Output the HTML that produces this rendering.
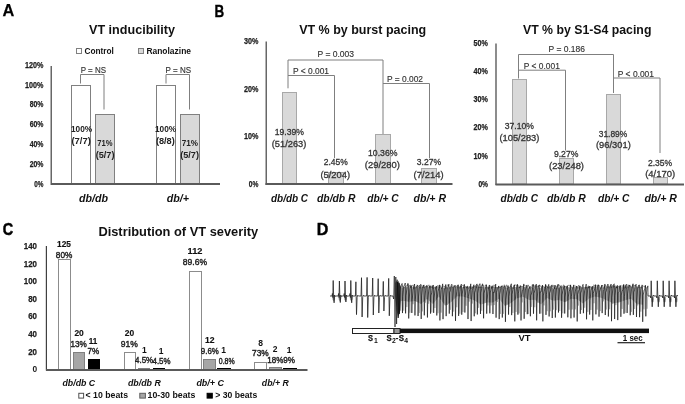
<!DOCTYPE html>
<html><head><meta charset="utf-8"><style>
html,body{margin:0;padding:0;background:#fff;width:685px;height:404px;overflow:hidden}
svg{display:block;filter:grayscale(1) blur(0.35px)}
text{font-family:"Liberation Sans",sans-serif}
</style></head><body>
<svg width="685" height="404" viewBox="0 0 685 404" font-family="Liberation Sans, sans-serif"><text x="2.5" y="16.3" font-size="17.4" font-weight="bold" font-style="normal" fill="#000" stroke="#000" stroke-width="0.25" textLength="11.8" lengthAdjust="spacingAndGlyphs">A</text>
<text x="214.5" y="16.6" font-size="17.4" font-weight="bold" font-style="normal" fill="#000" stroke="#000" stroke-width="0.4" textLength="9.7" lengthAdjust="spacingAndGlyphs">B</text>
<text x="2.7" y="234.9" font-size="17.4" font-weight="bold" font-style="normal" fill="#000" stroke="#000" stroke-width="0.5" textLength="10.4" lengthAdjust="spacingAndGlyphs">C</text>
<text x="316.8" y="234.7" font-size="17.4" font-weight="bold" font-style="normal" fill="#000" stroke="#000" stroke-width="0.45" textLength="11.6" lengthAdjust="spacingAndGlyphs">D</text>
<text x="89.0" y="33.7" font-size="13" font-weight="bold" font-style="normal" fill="#111" textLength="86.0" lengthAdjust="spacingAndGlyphs">VT inducibility</text>
<rect x="76.5" y="48.5" width="5.0" height="5.0" fill="#fff" stroke="#808080" stroke-width="1"/>
<text x="84.4" y="53.7" font-size="9" font-weight="bold" font-style="normal" fill="#111" textLength="29.5" lengthAdjust="spacingAndGlyphs">Control</text>
<rect x="138.5" y="48.5" width="5.0" height="5.0" fill="#d9d9d9" stroke="#808080" stroke-width="1"/>
<text x="146.4" y="53.7" font-size="9" font-weight="bold" font-style="normal" fill="#111" textLength="44.6" lengthAdjust="spacingAndGlyphs">Ranolazine</text>
<text x="34.3" y="186.6" font-size="8.4" font-weight="bold" font-style="normal" fill="#1e1e1e" stroke="#1e1e1e" stroke-width="0.25" textLength="9.2" lengthAdjust="spacingAndGlyphs">0%</text>
<text x="29.7" y="166.8" font-size="8.4" font-weight="bold" font-style="normal" fill="#1e1e1e" stroke="#1e1e1e" stroke-width="0.25" textLength="13.8" lengthAdjust="spacingAndGlyphs">20%</text>
<text x="29.7" y="147.0" font-size="8.4" font-weight="bold" font-style="normal" fill="#1e1e1e" stroke="#1e1e1e" stroke-width="0.25" textLength="13.8" lengthAdjust="spacingAndGlyphs">40%</text>
<text x="29.7" y="127.2" font-size="8.4" font-weight="bold" font-style="normal" fill="#1e1e1e" stroke="#1e1e1e" stroke-width="0.25" textLength="13.8" lengthAdjust="spacingAndGlyphs">60%</text>
<text x="29.7" y="107.4" font-size="8.4" font-weight="bold" font-style="normal" fill="#1e1e1e" stroke="#1e1e1e" stroke-width="0.25" textLength="13.8" lengthAdjust="spacingAndGlyphs">80%</text>
<text x="25.1" y="87.6" font-size="8.4" font-weight="bold" font-style="normal" fill="#1e1e1e" stroke="#1e1e1e" stroke-width="0.25" textLength="18.4" lengthAdjust="spacingAndGlyphs">100%</text>
<text x="25.1" y="67.8" font-size="8.4" font-weight="bold" font-style="normal" fill="#1e1e1e" stroke="#1e1e1e" stroke-width="0.25" textLength="18.4" lengthAdjust="spacingAndGlyphs">120%</text>
<rect x="71.5" y="85.5" width="19.0" height="98.5" fill="#fff" stroke="#808080" stroke-width="1"/>
<rect x="95.5" y="114.5" width="19.0" height="69.5" fill="#d9d9d9" stroke="#808080" stroke-width="1"/>
<rect x="156.5" y="85.5" width="19.0" height="98.5" fill="#fff" stroke="#808080" stroke-width="1"/>
<rect x="180.5" y="114.5" width="19.0" height="69.5" fill="#d9d9d9" stroke="#808080" stroke-width="1"/>
<line x1="51.2" y1="66" x2="51.2" y2="185" stroke="#404040" stroke-width="1.2"/>
<line x1="51" y1="184" x2="220" y2="184" stroke="#5a5a5a" stroke-width="2"/>
<polyline points="80.5,83.5 80.5,74.5 104,74.5 104,109.5" fill="none" stroke="#7f7f7f" stroke-width="1"/>
<polyline points="166,83.5 166,74.5 189.5,74.5 189.5,109.5" fill="none" stroke="#7f7f7f" stroke-width="1"/>
<text x="80.7" y="72.5" font-size="9" font-weight="normal" font-style="normal" fill="#333" stroke="#333" stroke-width="0.15" textLength="25.3" lengthAdjust="spacingAndGlyphs">P = NS</text>
<text x="165.6" y="72.5" font-size="9" font-weight="normal" font-style="normal" fill="#333" stroke="#333" stroke-width="0.15" textLength="25.5" lengthAdjust="spacingAndGlyphs">P = NS</text>
<text x="71.0" y="131.9" font-size="8.5" font-weight="bold" font-style="normal" fill="#222" textLength="21.2" lengthAdjust="spacingAndGlyphs">100%</text>
<text x="71.4" y="144.3" font-size="8.5" font-weight="bold" font-style="normal" fill="#222" textLength="19.4" lengthAdjust="spacingAndGlyphs">(7/7)</text>
<text x="97.2" y="146.1" font-size="8.5" font-weight="bold" font-style="normal" fill="#222" textLength="15.3" lengthAdjust="spacingAndGlyphs">71%</text>
<text x="95.7" y="158.3" font-size="8.5" font-weight="bold" font-style="normal" fill="#222" textLength="18.8" lengthAdjust="spacingAndGlyphs">(5/7)</text>
<text x="155.0" y="131.9" font-size="8.5" font-weight="bold" font-style="normal" fill="#222" textLength="21.2" lengthAdjust="spacingAndGlyphs">100%</text>
<text x="155.9" y="144.3" font-size="8.5" font-weight="bold" font-style="normal" fill="#222" textLength="18.9" lengthAdjust="spacingAndGlyphs">(8/8)</text>
<text x="181.7" y="146.1" font-size="8.5" font-weight="bold" font-style="normal" fill="#222" textLength="16.3" lengthAdjust="spacingAndGlyphs">71%</text>
<text x="180.2" y="158.3" font-size="8.5" font-weight="bold" font-style="normal" fill="#222" textLength="18.8" lengthAdjust="spacingAndGlyphs">(5/7)</text>
<text x="79.0" y="202.1" font-size="11" font-weight="bold" font-style="italic" fill="#111" textLength="29.0" lengthAdjust="spacingAndGlyphs">db/db</text>
<text x="166.7" y="202.1" font-size="11" font-weight="bold" font-style="italic" fill="#111" textLength="22.3" lengthAdjust="spacingAndGlyphs">db/+</text>
<text x="299.2" y="33.6" font-size="13" font-weight="bold" font-style="normal" fill="#111" textLength="127.0" lengthAdjust="spacingAndGlyphs">VT % by burst pacing</text>
<text x="248.8" y="186.6" font-size="8.4" font-weight="bold" font-style="normal" fill="#1e1e1e" stroke="#1e1e1e" stroke-width="0.25" textLength="9.6" lengthAdjust="spacingAndGlyphs">0%</text>
<text x="244.0" y="139.1" font-size="8.4" font-weight="bold" font-style="normal" fill="#1e1e1e" stroke="#1e1e1e" stroke-width="0.25" textLength="14.4" lengthAdjust="spacingAndGlyphs">10%</text>
<text x="244.0" y="91.6" font-size="8.4" font-weight="bold" font-style="normal" fill="#1e1e1e" stroke="#1e1e1e" stroke-width="0.25" textLength="14.4" lengthAdjust="spacingAndGlyphs">20%</text>
<text x="244.0" y="44.1" font-size="8.4" font-weight="bold" font-style="normal" fill="#1e1e1e" stroke="#1e1e1e" stroke-width="0.25" textLength="14.4" lengthAdjust="spacingAndGlyphs">30%</text>
<rect x="282.5" y="92.5" width="14" height="91.5" fill="#d9d9d9" stroke="#a8a8a8" stroke-width="1"/>
<rect x="328.5" y="172.5" width="15" height="11.5" fill="#d9d9d9" stroke="#a8a8a8" stroke-width="1"/>
<rect x="375.5" y="134.5" width="15" height="49.5" fill="#d9d9d9" stroke="#a8a8a8" stroke-width="1"/>
<rect x="421.5" y="168.5" width="15" height="15.5" fill="#d9d9d9" stroke="#a8a8a8" stroke-width="1"/>
<line x1="266.2" y1="41.5" x2="266.2" y2="185" stroke="#404040" stroke-width="1.2"/>
<line x1="265.5" y1="184" x2="452.5" y2="184" stroke="#5a5a5a" stroke-width="2"/>
<polyline points="288,88.3 288,60 383,60 383,134" fill="none" stroke="#7f7f7f" stroke-width="1"/>
<polyline points="288,75.5 334.5,75.5 334.5,158" fill="none" stroke="#7f7f7f" stroke-width="1"/>
<polyline points="383,83.5 429.5,83.5 429.5,158" fill="none" stroke="#7f7f7f" stroke-width="1"/>
<text x="317.5" y="56.9" font-size="9" font-weight="normal" font-style="normal" fill="#333" stroke="#333" stroke-width="0.15" textLength="36.6" lengthAdjust="spacingAndGlyphs">P = 0.003</text>
<text x="293.0" y="73.7" font-size="9" font-weight="normal" font-style="normal" fill="#333" stroke="#333" stroke-width="0.15" textLength="36.0" lengthAdjust="spacingAndGlyphs">P &lt; 0.001</text>
<text x="387.0" y="81.8" font-size="9" font-weight="normal" font-style="normal" fill="#333" stroke="#333" stroke-width="0.15" textLength="36.0" lengthAdjust="spacingAndGlyphs">P = 0.002</text>
<text x="274.7" y="135.3" font-size="9.6" font-weight="normal" font-style="normal" fill="#333" stroke="#333" stroke-width="0.3" textLength="29.3" lengthAdjust="spacingAndGlyphs">19.39%</text>
<text x="271.7" y="147.2" font-size="9.6" font-weight="normal" font-style="normal" fill="#333" stroke="#333" stroke-width="0.3" textLength="34.7" lengthAdjust="spacingAndGlyphs">(51/263)</text>
<text x="323.7" y="165.0" font-size="9.6" font-weight="normal" font-style="normal" fill="#333" stroke="#333" stroke-width="0.3" textLength="24.1" lengthAdjust="spacingAndGlyphs">2.45%</text>
<text x="320.5" y="177.5" font-size="9.6" font-weight="normal" font-style="normal" fill="#333" stroke="#333" stroke-width="0.3" textLength="29.5" lengthAdjust="spacingAndGlyphs">(5/204)</text>
<text x="368.0" y="156.4" font-size="9.6" font-weight="normal" font-style="normal" fill="#333" stroke="#333" stroke-width="0.3" textLength="29.5" lengthAdjust="spacingAndGlyphs">10.36%</text>
<text x="364.8" y="168.2" font-size="9.6" font-weight="normal" font-style="normal" fill="#333" stroke="#333" stroke-width="0.3" textLength="35.2" lengthAdjust="spacingAndGlyphs">(29/280)</text>
<text x="416.8" y="165.0" font-size="9.6" font-weight="normal" font-style="normal" fill="#333" stroke="#333" stroke-width="0.3" textLength="24.2" lengthAdjust="spacingAndGlyphs">3.27%</text>
<text x="413.6" y="177.5" font-size="9.6" font-weight="normal" font-style="normal" fill="#333" stroke="#333" stroke-width="0.3" textLength="30.0" lengthAdjust="spacingAndGlyphs">(7/214)</text>
<text x="271.0" y="202.3" font-size="11" font-weight="bold" font-style="italic" fill="#111" textLength="37.0" lengthAdjust="spacingAndGlyphs">db/db C</text>
<text x="317.0" y="202.3" font-size="11" font-weight="bold" font-style="italic" fill="#111" textLength="38.5" lengthAdjust="spacingAndGlyphs">db/db R</text>
<text x="367.3" y="202.3" font-size="11" font-weight="bold" font-style="italic" fill="#111" textLength="31.4" lengthAdjust="spacingAndGlyphs">db/+ C</text>
<text x="413.6" y="202.3" font-size="11" font-weight="bold" font-style="italic" fill="#111" textLength="32.4" lengthAdjust="spacingAndGlyphs">db/+ R</text>
<text x="523.0" y="33.6" font-size="13" font-weight="bold" font-style="normal" fill="#111" textLength="128.4" lengthAdjust="spacingAndGlyphs">VT % by S1-S4 pacing</text>
<text x="478.4" y="186.6" font-size="8.4" font-weight="bold" font-style="normal" fill="#1e1e1e" stroke="#1e1e1e" stroke-width="0.25" textLength="9.6" lengthAdjust="spacingAndGlyphs">0%</text>
<text x="473.6" y="158.5" font-size="8.4" font-weight="bold" font-style="normal" fill="#1e1e1e" stroke="#1e1e1e" stroke-width="0.25" textLength="14.4" lengthAdjust="spacingAndGlyphs">10%</text>
<text x="473.6" y="130.4" font-size="8.4" font-weight="bold" font-style="normal" fill="#1e1e1e" stroke="#1e1e1e" stroke-width="0.25" textLength="14.4" lengthAdjust="spacingAndGlyphs">20%</text>
<text x="473.6" y="102.3" font-size="8.4" font-weight="bold" font-style="normal" fill="#1e1e1e" stroke="#1e1e1e" stroke-width="0.25" textLength="14.4" lengthAdjust="spacingAndGlyphs">30%</text>
<text x="473.6" y="74.2" font-size="8.4" font-weight="bold" font-style="normal" fill="#1e1e1e" stroke="#1e1e1e" stroke-width="0.25" textLength="14.4" lengthAdjust="spacingAndGlyphs">40%</text>
<text x="473.6" y="46.1" font-size="8.4" font-weight="bold" font-style="normal" fill="#1e1e1e" stroke="#1e1e1e" stroke-width="0.25" textLength="14.4" lengthAdjust="spacingAndGlyphs">50%</text>
<rect x="512.5" y="79.5" width="14" height="104.5" fill="#d9d9d9" stroke="#a8a8a8" stroke-width="1"/>
<rect x="559.5" y="158.5" width="14" height="25.5" fill="#d9d9d9" stroke="#a8a8a8" stroke-width="1"/>
<rect x="606.5" y="94.5" width="14" height="89.5" fill="#d9d9d9" stroke="#a8a8a8" stroke-width="1"/>
<rect x="653.5" y="177.5" width="14" height="6.5" fill="#d9d9d9" stroke="#a8a8a8" stroke-width="1"/>
<line x1="496" y1="43.5" x2="496" y2="185" stroke="#404040" stroke-width="1.2"/>
<line x1="495.5" y1="184.5" x2="684" y2="184.5" stroke="#5a5a5a" stroke-width="2"/>
<polyline points="518.5,78.5 518.5,54.5 613.5,54.5 613.5,93" fill="none" stroke="#7f7f7f" stroke-width="1"/>
<polyline points="518.5,70.2 565.5,70.2 565.5,150.5" fill="none" stroke="#7f7f7f" stroke-width="1"/>
<polyline points="613.5,78 660,78 660,153" fill="none" stroke="#7f7f7f" stroke-width="1"/>
<text x="548.6" y="52.4" font-size="9" font-weight="normal" font-style="normal" fill="#333" stroke="#333" stroke-width="0.15" textLength="36.4" lengthAdjust="spacingAndGlyphs">P = 0.186</text>
<text x="523.8" y="69.2" font-size="9" font-weight="normal" font-style="normal" fill="#333" stroke="#333" stroke-width="0.15" textLength="36.0" lengthAdjust="spacingAndGlyphs">P &lt; 0.001</text>
<text x="617.8" y="76.8" font-size="9" font-weight="normal" font-style="normal" fill="#333" stroke="#333" stroke-width="0.15" textLength="36.2" lengthAdjust="spacingAndGlyphs">P &lt; 0.001</text>
<text x="504.8" y="129.2" font-size="9.6" font-weight="normal" font-style="normal" fill="#333" stroke="#333" stroke-width="0.3" textLength="29.2" lengthAdjust="spacingAndGlyphs">37.10%</text>
<text x="499.4" y="141.2" font-size="9.6" font-weight="normal" font-style="normal" fill="#333" stroke="#333" stroke-width="0.3" textLength="40.0" lengthAdjust="spacingAndGlyphs">(105/283)</text>
<text x="553.9" y="157.0" font-size="9.6" font-weight="normal" font-style="normal" fill="#333" stroke="#333" stroke-width="0.3" textLength="24.5" lengthAdjust="spacingAndGlyphs">9.27%</text>
<text x="549.0" y="169.2" font-size="9.6" font-weight="normal" font-style="normal" fill="#333" stroke="#333" stroke-width="0.3" textLength="35.0" lengthAdjust="spacingAndGlyphs">(23/248)</text>
<text x="598.7" y="136.5" font-size="9.6" font-weight="normal" font-style="normal" fill="#333" stroke="#333" stroke-width="0.3" textLength="28.6" lengthAdjust="spacingAndGlyphs">31.89%</text>
<text x="596.0" y="148.2" font-size="9.6" font-weight="normal" font-style="normal" fill="#333" stroke="#333" stroke-width="0.3" textLength="34.8" lengthAdjust="spacingAndGlyphs">(96/301)</text>
<text x="648.0" y="165.9" font-size="9.6" font-weight="normal" font-style="normal" fill="#333" stroke="#333" stroke-width="0.3" textLength="24.2" lengthAdjust="spacingAndGlyphs">2.35%</text>
<text x="645.2" y="177.4" font-size="9.6" font-weight="normal" font-style="normal" fill="#333" stroke="#333" stroke-width="0.3" textLength="30.0" lengthAdjust="spacingAndGlyphs">(4/170)</text>
<text x="500.5" y="202.3" font-size="11" font-weight="bold" font-style="italic" fill="#111" textLength="37.5" lengthAdjust="spacingAndGlyphs">db/db C</text>
<text x="547.0" y="202.3" font-size="11" font-weight="bold" font-style="italic" fill="#111" textLength="38.7" lengthAdjust="spacingAndGlyphs">db/db R</text>
<text x="598.0" y="202.3" font-size="11" font-weight="bold" font-style="italic" fill="#111" textLength="31.5" lengthAdjust="spacingAndGlyphs">db/+ C</text>
<text x="644.4" y="202.3" font-size="11" font-weight="bold" font-style="italic" fill="#111" textLength="32.6" lengthAdjust="spacingAndGlyphs">db/+ R</text>
<text x="98.4" y="236.0" font-size="13" font-weight="bold" font-style="normal" fill="#111" textLength="159.8" lengthAdjust="spacingAndGlyphs">Distribution of VT severity</text>
<text x="34.8" y="372.2" font-size="8.4" font-weight="bold" font-style="normal" fill="#1e1e1e" text-anchor="middle">0</text>
<text x="28.2" y="354.6" font-size="8.4" font-weight="bold" font-style="normal" fill="#1e1e1e" stroke="#1e1e1e" stroke-width="0.25" textLength="8.8" lengthAdjust="spacingAndGlyphs">20</text>
<text x="28.2" y="337.0" font-size="8.4" font-weight="bold" font-style="normal" fill="#1e1e1e" stroke="#1e1e1e" stroke-width="0.25" textLength="8.8" lengthAdjust="spacingAndGlyphs">40</text>
<text x="28.2" y="319.4" font-size="8.4" font-weight="bold" font-style="normal" fill="#1e1e1e" stroke="#1e1e1e" stroke-width="0.25" textLength="8.8" lengthAdjust="spacingAndGlyphs">60</text>
<text x="28.2" y="301.8" font-size="8.4" font-weight="bold" font-style="normal" fill="#1e1e1e" stroke="#1e1e1e" stroke-width="0.25" textLength="8.8" lengthAdjust="spacingAndGlyphs">80</text>
<text x="23.8" y="284.2" font-size="8.4" font-weight="bold" font-style="normal" fill="#1e1e1e" stroke="#1e1e1e" stroke-width="0.25" textLength="13.2" lengthAdjust="spacingAndGlyphs">100</text>
<text x="23.8" y="266.6" font-size="8.4" font-weight="bold" font-style="normal" fill="#1e1e1e" stroke="#1e1e1e" stroke-width="0.25" textLength="13.2" lengthAdjust="spacingAndGlyphs">120</text>
<text x="23.8" y="249.0" font-size="8.4" font-weight="bold" font-style="normal" fill="#1e1e1e" stroke="#1e1e1e" stroke-width="0.25" textLength="13.2" lengthAdjust="spacingAndGlyphs">140</text>
<rect x="58.5" y="259.5" width="12" height="110.10000000000002" fill="#fff" stroke="#8c8c8c" stroke-width="1"/>
<rect x="73.5" y="352.5" width="11" height="17.100000000000023" fill="#a6a6a6" stroke="#808080" stroke-width="1"/>
<rect x="88.5" y="359.5" width="11" height="10.100000000000023" fill="#000" stroke="#000" stroke-width="1"/>
<rect x="124.5" y="352.5" width="11" height="17.100000000000023" fill="#fff" stroke="#8c8c8c" stroke-width="1"/>
<rect x="138.5" y="368.5" width="11" height="1.1000000000000227" fill="#a6a6a6" stroke="#808080" stroke-width="1"/>
<rect x="153.5" y="368.5" width="11" height="1.1000000000000227" fill="#000" stroke="#000" stroke-width="1"/>
<rect x="189.5" y="271.5" width="12" height="98.10000000000002" fill="#fff" stroke="#8c8c8c" stroke-width="1"/>
<rect x="203.5" y="359.5" width="12" height="10.100000000000023" fill="#a6a6a6" stroke="#808080" stroke-width="1"/>
<rect x="217.5" y="368.5" width="13" height="1.1000000000000227" fill="#000" stroke="#000" stroke-width="1"/>
<rect x="254.5" y="362.5" width="12" height="7.100000000000023" fill="#fff" stroke="#8c8c8c" stroke-width="1"/>
<rect x="269.5" y="367.5" width="12" height="2.1000000000000227" fill="#a6a6a6" stroke="#808080" stroke-width="1"/>
<rect x="283.5" y="368.5" width="13" height="1.1000000000000227" fill="#000" stroke="#000" stroke-width="1"/>
<line x1="46.4" y1="246" x2="46.4" y2="370.5" stroke="#404040" stroke-width="1.2"/>
<line x1="46" y1="370" x2="307.5" y2="370" stroke="#5a5a5a" stroke-width="2"/>
<text x="57.0" y="247.1" font-size="8.5" font-weight="bold" font-style="normal" fill="#111" stroke="#111" stroke-width="0.15" textLength="13.9" lengthAdjust="spacingAndGlyphs">125</text>
<text x="55.8" y="257.7" font-size="8.5" font-weight="normal" font-style="normal" fill="#1e1e1e" stroke="#1e1e1e" stroke-width="0.4" textLength="16.5" lengthAdjust="spacingAndGlyphs">80%</text>
<text x="74.4" y="336.0" font-size="8.5" font-weight="bold" font-style="normal" fill="#111" stroke="#111" stroke-width="0.15" textLength="9.4" lengthAdjust="spacingAndGlyphs">20</text>
<text x="70.4" y="346.9" font-size="8.5" font-weight="normal" font-style="normal" fill="#1e1e1e" stroke="#1e1e1e" stroke-width="0.4" textLength="16.4" lengthAdjust="spacingAndGlyphs">13%</text>
<text x="88.8" y="343.9" font-size="8.5" font-weight="bold" font-style="normal" fill="#111" stroke="#111" stroke-width="0.15" textLength="8.6" lengthAdjust="spacingAndGlyphs">11</text>
<text x="87.5" y="354.3" font-size="8.5" font-weight="normal" font-style="normal" fill="#1e1e1e" stroke="#1e1e1e" stroke-width="0.4" textLength="11.7" lengthAdjust="spacingAndGlyphs">7%</text>
<text x="124.8" y="335.9" font-size="8.5" font-weight="bold" font-style="normal" fill="#111" stroke="#111" stroke-width="0.15" textLength="9.4" lengthAdjust="spacingAndGlyphs">20</text>
<text x="120.8" y="346.8" font-size="8.5" font-weight="normal" font-style="normal" fill="#1e1e1e" stroke="#1e1e1e" stroke-width="0.4" textLength="17.1" lengthAdjust="spacingAndGlyphs">91%</text>
<text x="144.3" y="352.5" font-size="8.5" font-weight="bold" font-style="normal" fill="#111" text-anchor="middle">1</text>
<text x="135.0" y="363.0" font-size="8.5" font-weight="normal" font-style="normal" fill="#1e1e1e" stroke="#1e1e1e" stroke-width="0.4" textLength="18.2" lengthAdjust="spacingAndGlyphs">4.5%</text>
<text x="161.1" y="353.7" font-size="8.5" font-weight="bold" font-style="normal" fill="#111" text-anchor="middle">1</text>
<text x="152.5" y="364.0" font-size="8.5" font-weight="normal" font-style="normal" fill="#1e1e1e" stroke="#1e1e1e" stroke-width="0.4" textLength="18.0" lengthAdjust="spacingAndGlyphs">4.5%</text>
<text x="187.6" y="253.8" font-size="8.5" font-weight="bold" font-style="normal" fill="#111" stroke="#111" stroke-width="0.15" textLength="14.9" lengthAdjust="spacingAndGlyphs">112</text>
<text x="182.8" y="264.8" font-size="8.5" font-weight="normal" font-style="normal" fill="#1e1e1e" stroke="#1e1e1e" stroke-width="0.4" textLength="24.2" lengthAdjust="spacingAndGlyphs">89.6%</text>
<text x="205.0" y="342.8" font-size="8.5" font-weight="bold" font-style="normal" fill="#111" stroke="#111" stroke-width="0.15" textLength="9.6" lengthAdjust="spacingAndGlyphs">12</text>
<text x="200.8" y="353.9" font-size="8.5" font-weight="normal" font-style="normal" fill="#1e1e1e" stroke="#1e1e1e" stroke-width="0.4" textLength="18.0" lengthAdjust="spacingAndGlyphs">9.6%</text>
<text x="223.6" y="352.8" font-size="8.5" font-weight="bold" font-style="normal" fill="#111" text-anchor="middle">1</text>
<text x="218.8" y="363.6" font-size="8.5" font-weight="normal" font-style="normal" fill="#1e1e1e" stroke="#1e1e1e" stroke-width="0.4" textLength="15.9" lengthAdjust="spacingAndGlyphs">0.8%</text>
<text x="260.6" y="346.0" font-size="8.5" font-weight="bold" font-style="normal" fill="#111" text-anchor="middle">8</text>
<text x="252.0" y="356.3" font-size="8.5" font-weight="normal" font-style="normal" fill="#1e1e1e" stroke="#1e1e1e" stroke-width="0.4" textLength="16.7" lengthAdjust="spacingAndGlyphs">73%</text>
<text x="275.1" y="351.8" font-size="8.5" font-weight="bold" font-style="normal" fill="#111" text-anchor="middle">2</text>
<text x="267.3" y="362.5" font-size="8.5" font-weight="normal" font-style="normal" fill="#1e1e1e" stroke="#1e1e1e" stroke-width="0.4" textLength="16.0" lengthAdjust="spacingAndGlyphs">18%</text>
<text x="289.1" y="352.8" font-size="8.5" font-weight="bold" font-style="normal" fill="#111" text-anchor="middle">1</text>
<text x="283.3" y="363.2" font-size="8.5" font-weight="normal" font-style="normal" fill="#1e1e1e" stroke="#1e1e1e" stroke-width="0.4" textLength="11.7" lengthAdjust="spacingAndGlyphs">9%</text>
<text x="62.5" y="386.2" font-size="9" font-weight="bold" font-style="italic" fill="#111" textLength="32.7" lengthAdjust="spacingAndGlyphs">db/db C</text>
<text x="127.9" y="386.2" font-size="9" font-weight="bold" font-style="italic" fill="#111" textLength="32.9" lengthAdjust="spacingAndGlyphs">db/db R</text>
<text x="196.4" y="386.2" font-size="9" font-weight="bold" font-style="italic" fill="#111" textLength="27.6" lengthAdjust="spacingAndGlyphs">db/+ C</text>
<text x="261.8" y="386.2" font-size="9" font-weight="bold" font-style="italic" fill="#111" textLength="27.0" lengthAdjust="spacingAndGlyphs">db/+ R</text>
<rect x="78.8" y="393.3" width="4.799999999999997" height="4.800000000000011" fill="#fff" stroke="#505050" stroke-width="1"/>
<text x="85.6" y="398.4" font-size="8.5" font-weight="bold" font-style="normal" fill="#111" textLength="42.5" lengthAdjust="spacingAndGlyphs">&lt; 10 beats</text>
<rect x="139.8" y="393.3" width="5.599999999999994" height="4.800000000000011" fill="#a6a6a6" stroke="#606060" stroke-width="1"/>
<text x="147.5" y="398.4" font-size="8.5" font-weight="bold" font-style="normal" fill="#111" textLength="47.9" lengthAdjust="spacingAndGlyphs">10-30 beats</text>
<rect x="207.1" y="393.3" width="5.200000000000017" height="4.800000000000011" fill="#000" stroke="#000" stroke-width="1"/>
<text x="215.2" y="398.4" font-size="8.5" font-weight="bold" font-style="normal" fill="#111" textLength="42.1" lengthAdjust="spacingAndGlyphs">&gt; 30 beats</text>
<ellipse cx="652.6" cy="299.5" rx="1.3" ry="3" fill="#9a9a9a"/>
<ellipse cx="658.7" cy="299.5" rx="1.3" ry="3" fill="#9a9a9a"/>
<ellipse cx="664.6" cy="299.5" rx="1.3" ry="3" fill="#9a9a9a"/>
<ellipse cx="670.5" cy="299.5" rx="1.3" ry="3" fill="#9a9a9a"/>
<ellipse cx="676.3" cy="299.5" rx="1.3" ry="3" fill="#9a9a9a"/>
<ellipse cx="333.7" cy="298" rx="1.4" ry="3" fill="#a0a0a0"/>
<ellipse cx="339.9" cy="298" rx="1.4" ry="3" fill="#a0a0a0"/>
<ellipse cx="345.5" cy="298" rx="1.4" ry="3" fill="#a0a0a0"/>
<ellipse cx="351.3" cy="298" rx="1.4" ry="3" fill="#a0a0a0"/>
<path d="M397.00,286.98 L403.00,287.69 L409.00,287.06 L415.00,286.58 L421.00,287.24 L427.00,286.44 L433.00,286.44 L439.00,287.34 L445.00,287.77 L451.00,287.28 L457.00,286.54 L463.00,287.09 L469.00,286.59 L475.00,286.35 L481.00,286.96 L487.00,287.08 L493.00,287.05 L499.00,286.99 L505.00,287.80 L511.00,287.56 L517.00,286.77 L523.00,286.73 L529.00,287.45 L535.00,287.57 L541.00,287.74 L547.00,286.30 L553.00,287.67 L559.00,287.77 L565.00,286.41 L571.00,287.47 L577.00,286.43 L583.00,287.75 L589.00,286.48 L595.00,286.45 L601.00,287.50 L607.00,287.14 L613.00,286.59 L619.00,286.50 L625.00,286.47 L631.00,286.62 L637.00,287.76 L643.00,286.76 L643.00,304.85 L637.00,304.03 L631.00,298.70 L625.00,300.21 L619.00,302.44 L613.00,303.32 L607.00,300.47 L601.00,297.78 L595.00,296.60 L589.00,298.46 L583.00,303.58 L577.00,299.33 L571.00,298.70 L565.00,302.29 L559.00,299.97 L553.00,300.70 L547.00,298.10 L541.00,304.47 L535.00,299.87 L529.00,300.00 L523.00,296.70 L517.00,298.30 L511.00,303.08 L505.00,305.96 L499.00,298.78 L493.00,302.62 L487.00,302.40 L481.00,304.42 L475.00,300.64 L469.00,298.42 L463.00,296.60 L457.00,296.15 L451.00,302.16 L445.00,305.65 L439.00,296.42 L433.00,304.10 L427.00,299.03 L421.00,303.93 L415.00,301.12 L409.00,301.87 L403.00,300.66 L397.00,301.60Z" fill="#ababab"/>
<path d="M399.80,289.49 L400.60,310.64 L401.40,294.77 L402.92,290.77 L403.72,310.62 L404.52,295.53 L406.04,287.12 L406.84,307.05 L407.64,295.66 L409.16,289.60 L409.96,312.71 L410.76,290.68 L412.28,288.88 L413.08,304.21 L413.88,293.26 L415.40,289.30 L416.20,301.17 L417.00,291.30 L418.52,288.12 L419.32,312.91 L420.12,294.59 L421.64,287.64 L422.44,311.36 L423.24,290.83 L424.76,289.47 L425.56,302.65 L426.36,290.01 L427.88,290.49 L428.68,303.72 L429.48,291.29 L431.00,290.93 L431.80,312.34 L432.60,291.74 L434.12,290.85 L434.92,308.01 L435.72,294.07 L437.24,287.82 L438.04,313.23 L438.84,294.14 L440.36,290.87 L441.16,312.62 L441.96,291.79 L443.48,288.44 L444.28,303.16 L445.08,290.87 L446.60,287.26 L447.40,304.92 L448.20,293.62 L449.72,287.01 L450.52,309.81 L451.32,292.03 L452.84,288.24 L453.64,311.64 L454.44,292.88 L455.96,288.26 L456.76,307.26 L457.56,294.23 L459.08,287.23 L459.88,313.68 L460.68,290.14 L462.20,290.00 L463.00,311.98 L463.80,290.11 L465.32,290.15 L466.12,305.76 L466.92,293.47 L468.44,287.04 L469.24,301.61 L470.04,291.09 L471.56,290.82 L472.36,303.55 L473.16,294.53 L474.68,290.72 L475.48,313.25 L476.28,292.07 L477.80,288.42 L478.60,307.82 L479.40,294.65 L480.92,287.43 L481.72,310.73 L482.52,294.78 L484.04,290.44 L484.84,301.48 L485.64,295.67 L487.16,287.36 L487.96,305.43 L488.76,293.66 L490.28,290.67 L491.08,305.42 L491.88,295.55 L493.40,289.18 L494.20,305.06 L495.00,291.90 L496.52,287.71 L497.32,302.02 L498.12,290.89 L499.64,289.76 L500.44,313.96 L501.24,290.97 L502.76,287.19 L503.56,313.83 L504.36,293.20 L505.88,288.62 L506.68,304.09 L507.48,293.56 L509.00,290.31 L509.80,306.92 L510.60,292.53 L512.12,287.22 L512.92,312.91 L513.72,290.20 L515.24,288.97 L516.04,311.90 L516.84,290.78 L518.36,289.93 L519.16,313.35 L519.96,293.78 L521.48,290.15 L522.28,302.39 L523.08,292.61 L524.60,287.60 L525.40,311.98 L526.20,291.77 L527.72,288.81 L528.52,313.99 L529.32,295.11 L530.84,290.90 L531.64,306.90 L532.44,292.93 L533.96,289.92 L534.76,307.23 L535.56,291.75 L537.08,288.62 L537.88,302.90 L538.68,292.26 L540.20,290.95 L541.00,313.48 L541.80,293.76 L543.32,289.00 L544.12,305.40 L544.92,290.53 L546.44,288.09 L547.24,311.17 L548.04,295.20 L549.56,288.45 L550.36,311.22 L551.16,294.65 L552.68,289.78 L553.48,309.63 L554.28,294.56 L555.80,288.45 L556.60,310.16 L557.40,291.69 L558.92,288.94 L559.72,311.01 L560.52,294.15 L562.04,288.18 L562.84,313.29 L563.64,293.90 L565.16,289.32 L565.96,301.15 L566.76,293.28 L568.28,288.00 L569.08,309.73 L569.88,292.78 L571.40,290.27 L572.20,309.42 L573.00,294.79 L574.52,288.39 L575.32,309.37 L576.12,294.43 L577.64,290.31 L578.44,305.55 L579.24,295.06 L580.76,290.48 L581.56,309.95 L582.36,295.86 L583.88,290.83 L584.68,307.74 L585.48,293.18 L587.00,287.66 L587.80,311.88 L588.60,295.62 L590.12,288.91 L590.92,309.99 L591.72,294.32 L593.24,289.92 L594.04,303.23 L594.84,294.68 L596.36,289.32 L597.16,309.65 L597.96,292.52 L599.48,289.49 L600.28,311.07 L601.08,293.82 L602.60,289.88 L603.40,301.36 L604.20,290.96 L605.72,288.76 L606.52,309.45 L607.32,291.31 L608.84,289.74 L609.64,309.20 L610.44,290.25 L611.96,288.89 L612.76,303.94 L613.56,290.32 L615.08,287.53 L615.88,305.13 L616.68,291.09 L618.20,287.77 L619.00,301.46 L619.80,292.79 L621.32,288.52 L622.12,308.95 L622.92,293.54 L624.44,287.95 L625.24,312.74 L626.04,290.00 L627.56,288.62 L628.36,304.62 L629.16,292.46 L630.68,287.46 L631.48,311.81 L632.28,292.24 L633.80,287.14 L634.60,308.98 L635.40,290.57 L636.92,289.18 L637.72,305.41 L638.52,293.49 L640.04,290.83 L640.84,311.64 L641.64,292.51 L643.16,290.25 L643.96,309.35 L644.76,292.22 L646.28,287.57 L647.08,308.75 L647.88,293.38" fill="none" stroke="#999" stroke-width="0.6"/>
<path d="M395.5,283 L397,279 L399,282 L400.5,286 L401,300 L400,312 L398,318 L396.5,310 L395.5,296 Z" fill="#555"/>
<path d="M399.50,285.36 L400.30,287.46 L401.10,287.24 L401.90,286.62 L402.70,285.56 L403.50,287.87 L404.30,287.93 L405.10,286.75 L405.90,286.72 L406.70,285.64 L407.50,284.71 L408.30,286.18 L409.10,287.04 L409.90,284.98 L410.70,287.88 L411.50,285.63 L412.30,285.63 L413.10,284.87 L413.90,288.69 L414.70,287.65 L415.50,288.20 L416.30,287.16 L417.10,284.84 L417.90,286.02 L418.70,286.69 L419.50,285.16 L420.30,288.51 L421.10,286.17 L421.90,285.32 L422.70,287.97 L423.50,285.20 L424.30,288.41 L425.10,286.51 L425.90,286.91 L426.70,286.07 L427.50,286.64 L428.30,285.45 L429.10,284.85 L429.90,288.16 L430.70,285.64 L431.50,287.82 L432.30,285.53 L433.10,288.58 L433.90,288.28 L434.70,287.72 L435.50,287.75 L436.30,287.02 L437.10,287.62 L437.90,285.19 L438.70,286.61 L439.50,288.01 L440.30,285.50 L441.10,288.39 L441.90,288.25 L442.70,286.34 L443.50,286.16 L444.30,286.51 L445.10,286.24 L445.90,288.68 L446.70,286.25 L447.50,284.81 L448.30,285.07 L449.10,287.57 L449.90,288.67 L450.70,286.68 L451.50,286.67 L452.30,286.90 L453.10,287.69 L453.90,285.59 L454.70,287.14 L455.50,286.93 L456.30,287.19 L457.10,285.42 L457.90,285.38 L458.70,286.09 L459.50,288.41 L460.30,286.09 L461.10,287.09 L461.90,285.93 L462.70,285.11 L463.50,284.96 L464.30,287.95 L465.10,287.81 L465.90,286.20 L466.70,287.43 L467.50,287.40 L468.30,288.29 L469.10,288.53 L469.90,286.33 L470.70,288.66 L471.50,288.55 L472.30,287.06 L473.10,288.23 L473.90,286.66 L474.70,286.20 L475.50,285.69 L476.30,288.20 L477.10,285.35 L477.90,284.98 L478.70,287.92 L479.50,287.80 L480.30,286.63 L481.10,288.05 L481.90,284.91 L482.70,285.73 L483.50,285.86 L484.30,286.38 L485.10,285.38 L485.90,284.98 L486.70,286.05 L487.50,288.30 L488.30,288.63 L489.10,287.68 L489.90,286.62 L490.70,285.71 L491.50,288.54 L492.30,286.80 L493.10,287.61 L493.90,284.81 L494.70,285.55 L495.50,288.05 L496.30,287.88 L497.10,288.23 L497.90,287.11 L498.70,286.40 L499.50,287.02 L500.30,288.10 L501.10,285.93 L501.90,286.84 L502.70,285.80 L503.50,287.77 L504.30,284.74 L505.10,287.44 L505.90,288.52 L506.70,284.79 L507.50,287.07 L508.30,287.28 L509.10,288.11 L509.90,287.04 L510.70,285.73 L511.50,286.32 L512.30,288.53 L513.10,288.32 L513.90,285.23 L514.70,285.08 L515.50,285.08 L516.30,284.80 L517.10,286.49 L517.90,285.26 L518.70,288.17 L519.50,287.32 L520.30,285.21 L521.10,286.85 L521.90,286.00 L522.70,286.68 L523.50,285.58 L524.30,285.36 L525.10,285.44 L525.90,286.21 L526.70,287.54 L527.50,286.90 L528.30,284.88 L529.10,287.54 L529.90,288.20 L530.70,287.80 L531.50,287.86 L532.30,284.73 L533.10,286.56 L533.90,284.95 L534.70,287.76 L535.50,285.40 L536.30,287.55 L537.10,285.71 L537.90,287.49 L538.70,285.95 L539.50,284.87 L540.30,286.26 L541.10,285.94 L541.90,288.30 L542.70,285.88 L543.50,286.71 L544.30,286.90 L545.10,288.49 L545.90,285.09 L546.70,287.10 L547.50,286.73 L548.30,287.64 L549.10,288.57 L549.90,285.94 L550.70,287.50 L551.50,286.80 L552.30,286.94 L553.10,284.95 L553.90,287.96 L554.70,288.61 L555.50,286.12 L556.30,285.97 L557.10,288.67 L557.90,285.13 L558.70,285.00 L559.50,284.99 L560.30,287.96 L561.10,287.74 L561.90,286.49 L562.70,287.19 L563.50,284.78 L564.30,287.28 L565.10,286.47 L565.90,286.77 L566.70,286.26 L567.50,286.31 L568.30,285.60 L569.10,284.90 L569.90,286.44 L570.70,285.69 L571.50,287.52 L572.30,287.97 L573.10,287.60 L573.90,286.52 L574.70,285.65 L575.50,286.24 L576.30,286.65 L577.10,287.23 L577.90,288.55 L578.70,285.04 L579.50,286.62 L580.30,286.67 L581.10,287.57 L581.90,288.26 L582.70,287.82 L583.50,287.21 L584.30,287.73 L585.10,287.37 L585.90,288.14 L586.70,287.50 L587.50,287.43 L588.30,285.68 L589.10,288.37 L589.90,286.24 L590.70,287.16 L591.50,288.00 L592.30,288.55 L593.10,288.66 L593.90,284.73 L594.70,285.95 L595.50,285.95 L596.30,286.26 L597.10,285.28 L597.90,286.91 L598.70,285.02 L599.50,285.91 L600.30,288.47 L601.10,287.67 L601.90,286.55 L602.70,285.13 L603.50,288.52 L604.30,287.52 L605.10,285.52 L605.90,286.04 L606.70,287.27 L607.50,287.43 L608.30,285.74 L609.10,288.50 L609.90,285.99 L610.70,285.72 L611.50,288.08 L612.30,285.31 L613.10,287.42 L613.90,285.50 L614.70,287.09 L615.50,285.81 L616.30,286.22 L617.10,288.46 L617.90,286.57 L618.70,286.45 L619.50,287.17 L620.30,285.82 L621.10,285.40 L621.90,286.24 L622.70,285.79 L623.50,285.45 L624.30,288.54 L625.10,284.84 L625.90,287.94 L626.70,288.44 L627.50,287.52 L628.30,284.78 L629.10,286.70 L629.90,284.86 L630.70,287.13 L631.50,287.50 L632.30,285.66 L633.10,284.73 L633.90,286.88 L634.70,285.08 L635.50,285.94 L636.30,286.52 L637.10,288.28 L637.90,286.18 L638.70,285.24 L639.50,287.87 L640.30,287.99 L641.10,286.82 L641.90,284.90 L642.70,285.45 L643.50,286.31 L644.30,286.91 L645.10,285.60 L645.90,287.91 L646.70,288.07" fill="none" stroke="#555" stroke-width="0.6"/>
<path d="M393.60,299.00 L394.30,276.00 L395.00,327.00 L395.80,277.00 L396.60,324.00 L397.40,282.00 L398.20,318.00 L399.00,283.04 L399.35,313.93 L399.75,297.86 L400.60,286.33 L401.40,285.19 L402.12,283.46 L402.47,313.05 L402.87,296.57 L403.72,286.61 L404.52,285.20 L405.24,283.01 L405.59,313.36 L405.99,295.82 L406.84,289.31 L407.64,283.50 L408.36,283.72 L408.71,318.46 L409.11,300.53 L409.96,289.02 L410.76,285.30 L411.48,285.99 L411.83,312.94 L412.23,299.73 L413.08,290.14 L413.88,286.56 L414.60,284.01 L414.95,315.43 L415.35,299.35 L416.20,287.73 L417.00,286.33 L417.72,285.36 L418.07,316.04 L418.47,296.93 L419.32,288.61 L420.12,285.60 L420.84,284.24 L421.19,318.96 L421.59,295.85 L422.44,288.49 L423.24,286.58 L423.96,284.88 L424.31,315.35 L424.71,299.15 L425.56,290.67 L426.36,285.85 L427.08,285.19 L427.43,317.49 L427.83,299.88 L428.68,291.11 L429.48,286.35 L430.20,286.25 L430.55,313.62 L430.95,295.76 L431.80,292.28 L432.60,286.86 L433.32,284.97 L433.67,312.87 L434.07,298.01 L434.92,291.03 L435.72,287.26 L436.44,285.98 L436.79,315.48 L437.19,298.26 L438.04,291.35 L438.84,288.30 L439.56,284.89 L439.91,320.48 L440.31,300.50 L441.16,289.78 L441.96,287.54 L442.68,283.86 L443.03,319.16 L443.43,297.82 L444.28,290.83 L445.08,287.15 L445.80,284.44 L446.15,316.17 L446.55,298.02 L447.40,287.53 L448.20,286.29 L448.92,284.14 L449.27,313.61 L449.67,292.53 L450.52,290.21 L451.32,284.65 L452.04,284.34 L452.39,316.21 L452.79,299.84 L453.64,287.67 L454.44,286.14 L455.16,285.13 L455.51,320.89 L455.91,299.37 L456.76,291.58 L457.56,286.24 L458.28,284.78 L458.63,315.91 L459.03,299.96 L459.88,291.61 L460.68,285.38 L461.40,284.16 L461.75,314.70 L462.15,294.10 L463.00,289.10 L463.80,286.51 L464.52,284.38 L464.87,312.54 L465.27,295.77 L466.12,288.86 L466.92,286.65 L467.64,286.18 L467.99,319.06 L468.39,296.64 L469.24,291.65 L470.04,288.88 L470.76,283.84 L471.11,321.05 L471.51,299.02 L472.36,290.34 L473.16,287.03 L473.88,284.72 L474.23,316.29 L474.63,292.93 L475.48,290.26 L476.28,284.97 L477.00,283.88 L477.35,314.48 L477.75,293.46 L478.60,288.24 L479.40,284.09 L480.12,283.70 L480.47,313.94 L480.87,292.91 L481.72,288.16 L482.52,283.80 L483.24,285.97 L483.59,318.33 L483.99,293.34 L484.84,289.98 L485.64,287.36 L486.36,284.65 L486.71,313.67 L487.11,299.64 L487.96,291.62 L488.76,286.51 L489.48,284.96 L489.83,313.32 L490.23,292.92 L491.08,289.33 L491.88,286.02 L492.60,285.86 L492.95,314.03 L493.35,292.21 L494.20,292.66 L495.00,287.97 L495.72,284.08 L496.07,317.66 L496.47,292.24 L497.32,289.19 L498.12,288.00 L498.84,285.94 L499.19,319.11 L499.59,294.35 L500.44,290.41 L501.24,286.61 L501.96,285.71 L502.31,317.56 L502.71,299.01 L503.56,290.03 L504.36,286.60 L505.08,285.81 L505.43,321.86 L505.83,299.67 L506.68,292.03 L507.48,289.08 L508.20,285.62 L508.55,314.65 L508.95,296.66 L509.80,290.05 L510.60,285.74 L511.32,283.77 L511.67,315.15 L512.07,294.33 L512.92,289.54 L513.72,287.60 L514.44,284.86 L514.79,321.40 L515.19,300.89 L516.04,291.68 L516.84,286.32 L517.56,284.27 L517.91,314.66 L518.31,293.77 L519.16,288.09 L519.96,286.77 L520.68,286.04 L521.03,320.48 L521.43,296.32 L522.28,291.65 L523.08,289.24 L523.80,283.92 L524.15,318.78 L524.55,300.19 L525.40,290.05 L526.20,286.92 L526.92,284.94 L527.27,314.20 L527.67,299.10 L528.52,289.27 L529.32,288.15 L530.04,286.23 L530.39,316.26 L530.79,295.61 L531.64,293.01 L532.44,289.13 L533.16,284.14 L533.51,313.71 L533.91,293.36 L534.76,290.76 L535.56,287.37 L536.28,284.08 L536.63,320.35 L537.03,300.82 L537.88,289.71 L538.68,285.48 L539.40,285.13 L539.75,313.74 L540.15,292.13 L541.00,292.01 L541.80,287.73 L542.52,285.07 L542.87,321.37 L543.27,295.90 L544.12,291.56 L544.92,288.37 L545.64,284.25 L545.99,314.89 L546.39,294.64 L547.24,288.21 L548.04,286.59 L548.76,284.37 L549.11,316.48 L549.51,293.18 L550.36,291.01 L551.16,285.79 L551.88,284.89 L552.23,318.04 L552.63,300.14 L553.48,289.57 L554.28,288.56 L555.00,285.00 L555.35,317.55 L555.75,296.71 L556.60,288.08 L557.40,286.76 L558.12,284.18 L558.47,312.54 L558.87,299.19 L559.72,287.87 L560.52,286.07 L561.24,285.59 L561.59,317.79 L561.99,294.93 L562.84,290.66 L563.64,287.81 L564.36,285.74 L564.71,313.51 L565.11,297.04 L565.96,289.73 L566.76,286.85 L567.48,285.71 L567.83,317.32 L568.23,297.06 L569.08,291.75 L569.88,289.36 L570.60,284.85 L570.95,318.32 L571.35,296.55 L572.20,289.90 L573.00,287.62 L573.72,284.88 L574.07,317.57 L574.47,296.30 L575.32,291.64 L576.12,287.67 L576.84,285.98 L577.19,321.45 L577.59,294.34 L578.44,291.22 L579.24,289.75 L579.96,285.88 L580.31,313.80 L580.71,293.09 L581.56,290.65 L582.36,286.17 L583.08,284.33 L583.43,313.19 L583.83,298.03 L584.68,290.46 L585.48,287.91 L586.20,284.10 L586.55,319.30 L586.95,297.94 L587.80,287.67 L588.60,287.63 L589.32,286.22 L589.67,314.59 L590.07,300.57 L590.92,290.81 L591.72,288.16 L592.44,286.27 L592.79,320.41 L593.19,293.45 L594.04,291.00 L594.84,288.34 L595.56,284.58 L595.91,314.36 L596.31,294.87 L597.16,290.47 L597.96,284.66 L598.68,285.14 L599.03,316.68 L599.43,292.16 L600.28,289.47 L601.08,287.64 L601.80,285.03 L602.15,313.11 L602.55,300.87 L603.40,291.19 L604.20,288.92 L604.92,283.97 L605.27,315.02 L605.67,292.36 L606.52,290.09 L607.32,285.05 L608.04,284.04 L608.39,316.51 L608.79,300.20 L609.64,290.31 L610.44,285.07 L611.16,284.09 L611.51,321.23 L611.91,297.14 L612.76,289.89 L613.56,284.45 L614.28,283.85 L614.63,319.04 L615.03,295.83 L615.88,287.14 L616.68,287.60 L617.40,285.35 L617.75,320.12 L618.15,292.75 L619.00,291.77 L619.80,285.62 L620.52,285.94 L620.87,316.81 L621.27,295.05 L622.12,291.16 L622.92,289.65 L623.64,284.40 L623.99,313.73 L624.39,296.74 L625.24,288.35 L626.04,284.83 L626.76,284.12 L627.11,312.98 L627.51,293.82 L628.36,288.37 L629.16,285.34 L629.88,285.67 L630.23,315.25 L630.63,296.50 L631.48,289.39 L632.28,287.06 L633.00,283.75 L633.35,314.88 L633.75,292.14 L634.60,289.68 L635.40,285.95 L636.12,284.19 L636.47,317.01 L636.87,300.41 L637.72,287.62 L638.52,287.47 L639.24,284.82 L639.59,317.20 L639.99,299.51 L640.84,289.40 L641.64,286.85 L642.36,285.49 L642.71,321.83 L643.11,295.08 L643.96,291.82 L644.76,288.32 L645.48,285.35 L645.83,316.34 L646.23,295.13 L647.08,288.57 L647.88,285.87 L648.00,296.00" fill="none" stroke="#000" stroke-width="0.6" stroke-linejoin="round"/>
<path d="M330.00,296.00 L332.00,296.00 L332.40,293.50 L332.80,297.50 L333.20,280.50 L333.70,298.00 L334.10,302.80 L334.60,295.00 L335.20,296.50 L335.80,296.00 L338.20,296.00 L338.60,293.50 L339.00,297.50 L339.40,281.00 L339.90,298.00 L340.30,302.50 L340.80,295.00 L341.40,296.50 L342.00,296.00 L343.80,296.00 L344.20,293.50 L344.60,297.50 L345.00,281.00 L345.50,298.00 L345.90,302.00 L346.40,295.00 L347.00,296.50 L347.60,296.00 L349.60,296.00 L350.00,293.50 L350.40,297.50 L350.80,280.50 L351.30,298.00 L351.70,302.80 L352.20,295.00 L352.80,296.50 L353.40,296.00 L355.40,296.00 L355.90,281.80 L356.50,314.60 L357.10,297.50 L357.70,295.20 L358.40,296.00 L361.00,296.00 L361.50,277.70 L362.10,317.00 L362.70,297.50 L363.30,295.20 L364.00,296.00 L366.60,296.00 L367.10,277.40 L367.70,317.50 L368.30,297.50 L368.90,295.20 L369.60,296.00 L372.20,296.00 L372.70,278.00 L373.30,315.00 L373.90,297.50 L374.50,295.20 L375.20,296.00 L377.70,296.00 L378.20,278.70 L378.80,313.00 L379.40,297.50 L380.00,295.20 L380.70,296.00 L382.80,296.00 L383.30,281.40 L383.90,311.00 L384.50,297.50 L385.10,295.20 L385.80,296.00 L388.20,296.00 L388.70,278.40 L389.30,315.80 L389.90,297.50 L390.50,295.20 L391.20,296.00 L393.00,296.00 L393.60,299.00" fill="none" stroke="#222" stroke-width="0.8" stroke-linejoin="round"/>
<path d="M648.00,296.00 L650.40,296.00 L650.80,298.00 L651.20,280.80 L651.70,296.00 L652.20,306.80 L652.70,297.50 L653.30,295.00 L654.00,296.00 L656.50,296.00 L656.90,298.00 L657.30,280.80 L657.80,296.00 L658.30,306.80 L658.80,297.50 L659.40,295.00 L660.10,296.00 L662.40,296.00 L662.80,298.00 L663.20,280.80 L663.70,296.00 L664.20,306.80 L664.70,297.50 L665.30,295.00 L666.00,296.00 L668.30,296.00 L668.70,298.00 L669.10,280.80 L669.60,296.00 L670.10,306.80 L670.60,297.50 L671.20,295.00 L671.90,296.00 L674.10,296.00 L674.50,298.00 L674.90,280.80 L675.40,296.00 L675.90,306.80 L676.40,297.50 L677.00,295.00 L677.70,296.00 L678.00,296.00" fill="none" stroke="#222" stroke-width="0.8" stroke-linejoin="round"/>
<rect x="352.5" y="328.5" width="41.5" height="5.0" fill="#fff" stroke="#222" stroke-width="1"/>
<rect x="394" y="328.5" width="6" height="5.0" fill="#999" stroke="#222" stroke-width="1"/>
<rect x="400" y="328.6" width="249" height="4.5" fill="#111" stroke="none" stroke-width="1"/>
<text x="368.0" y="340.8" font-size="9.2" font-weight="bold" font-style="normal" fill="#111" stroke="#111" stroke-width="0.25" textLength="5.0" lengthAdjust="spacingAndGlyphs">S</text>
<text x="374.0" y="343.4" font-size="6.8" font-weight="bold" font-style="normal" fill="#111">1</text>
<text x="386.4" y="340.8" font-size="9.2" font-weight="bold" font-style="normal" fill="#111" stroke="#111" stroke-width="0.25" textLength="5.2" lengthAdjust="spacingAndGlyphs">S</text>
<text x="391.9" y="343.4" font-size="6.8" font-weight="bold" font-style="normal" fill="#111">2</text>
<text x="395.6" y="340.6" font-size="8.5" font-weight="bold" font-style="normal" fill="#111" textLength="3.0" lengthAdjust="spacingAndGlyphs">-</text>
<text x="398.7" y="340.8" font-size="9.2" font-weight="bold" font-style="normal" fill="#111" stroke="#111" stroke-width="0.25" textLength="5.3" lengthAdjust="spacingAndGlyphs">S</text>
<text x="404.3" y="343.4" font-size="6.8" font-weight="bold" font-style="normal" fill="#111">4</text>
<text x="518.5" y="341.2" font-size="9.5" font-weight="bold" font-style="normal" fill="#111" textLength="12.1" lengthAdjust="spacingAndGlyphs">VT</text>
<text x="622.8" y="340.8" font-size="8.6" font-weight="bold" font-style="normal" fill="#111" textLength="19.9" lengthAdjust="spacingAndGlyphs">1 sec</text>
<line x1="617.5" y1="342.7" x2="645" y2="342.7" stroke="#222" stroke-width="1.2"/></svg>
</body></html>
